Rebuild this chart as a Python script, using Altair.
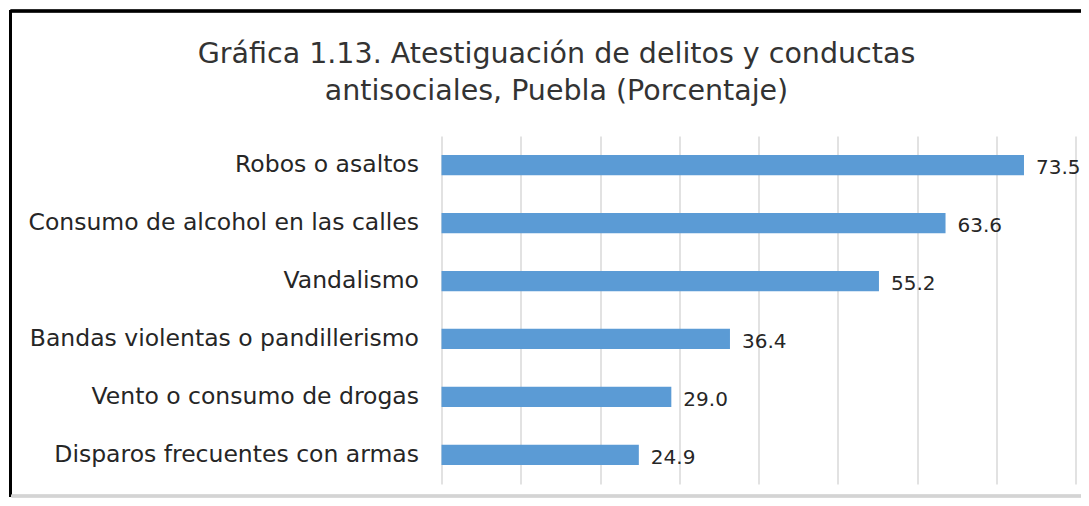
import altair as alt
import pandas as pd

categories = [
    "Robos o asaltos",
    "Consumo de alcohol en las calles",
    "Vandalismo\u00a0",
    "Bandas violentas o pandillerismo",
    "Vento o consumo de drogas",
    "Disparos frecuentes con armas",
]
values = [73.5, 63.6, 55.2, 36.4, 29.0, 24.9]
value_labels = ["73.5", "63.6", "55.2", "36.4", "29.0", "24.9"]

df = pd.DataFrame({"cat": categories, "val": values, "lab": value_labels})

FONT = "DejaVu Sans"

y_enc = alt.Y(
    "cat:N",
    sort=categories,
    title=None,
    scale=alt.Scale(paddingInner=0.65, paddingOuter=0.33),
    axis=alt.Axis(
        ticks=False, domain=False, labelFontSize=23.5, labelColor="#262626",
        labelFont=FONT, labelPadding=23, labelLimit=500, grid=False,
    ),
)
x_enc = alt.X(
    "val:Q",
    title=None,
    scale=alt.Scale(domain=[0, 80], nice=False),
    axis=alt.Axis(
        values=[0, 10, 20, 30, 40, 50, 60, 70, 80], labels=False, ticks=False,
        domain=False, grid=True, gridColor="#d9d9d9", gridWidth=1.5,
    ),
)

bars = alt.Chart(df).mark_bar(color="#5B9BD5").encode(x=x_enc, y=y_enc)
texts = alt.Chart(df).mark_text(
    align="left", baseline="middle", dx=12, dy=3, fontSize=20,
    font=FONT, color="#262626",
).encode(x="val:Q", y=alt.Y("cat:N", sort=categories), text="lab:N")

frame_top = alt.Chart(df).mark_rule(color="#000000", strokeWidth=2.5).encode(
    x=alt.value(-431), x2=alt.value(660), y=alt.value(-125)
)
frame_left = alt.Chart(df).mark_rule(color="#000000", strokeWidth=3).encode(
    x=alt.value(-431), y=alt.value(-126), y2=alt.value(361)
)
frame_bottom = alt.Chart(df).mark_rule(color="#d4d4d4", strokeWidth=2.5).encode(
    x=alt.value(-430), x2=alt.value(660), y=alt.value(360)
)

chart = alt.layer(bars, texts, frame_top, frame_left, frame_bottom).properties(
    width=634,
    height=348,
    autosize=alt.AutoSizeParams(type="none"),
    padding={"left": 433.5, "top": 128, "right": 5, "bottom": 14},
    title=alt.TitleParams(
        text=["Gráfica 1.13. Atestiguación de delitos y conductas",
              "antisociales, Puebla (Porcentaje)"],
        fontSize=28.5, font=FONT, fontWeight="normal", color="#333333",
        anchor="middle", frame="group", dx=-202, offset=-97, lineHeight=37,
    ),
).configure_view(stroke=None)

chart.save("out.html", embed_options={"renderer": "svg", "actions": False})
